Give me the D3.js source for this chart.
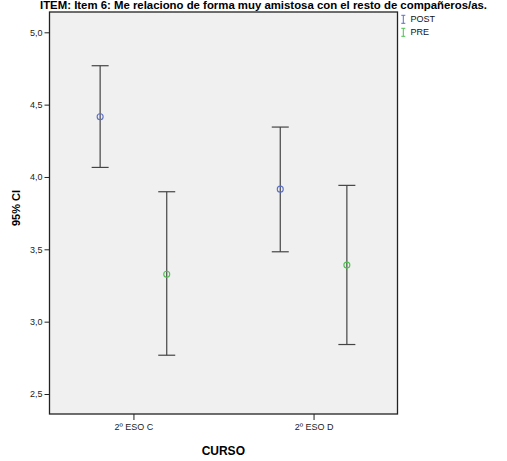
<!DOCTYPE html>
<html><head><meta charset="utf-8">
<script src="https://cdn.jsdelivr.net/npm/d3@7"></script>
<style>body{margin:0;background:#fff}svg{display:block}text{font-family:"Liberation Sans",Arial,sans-serif}</style>
</head><body>
<script>
const categories = ["2º ESO C", "2º ESO D"];
const series = ["POST", "PRE"];
const meanPOST = [4.416, 3.916];
const lowPOST  = [4.066, 3.483];
const highPOST = [4.769, 4.345];
const meanPRE  = [3.328, 3.391];
const lowPRE   = [2.768, 2.842];
const highPRE  = [3.898, 3.942];
const yTicks = [2.5, 3.0, 3.5, 4.0, 4.5, 5.0];
const colors = {POST: "#5a6fca", PRE: "#4cc24c"};
const title = "ITEM: Item 6: Me relaciono de forma muy amistosa con el resto de compañeros/as.";

const W = 507, H = 461;
const plot = {l: 49.5, r: 397.5, t: 12, b: 414};
const svg = d3.select("body").append("svg").attr("width", W).attr("height", H);

const y = d3.scaleLinear().domain([2.5, 5.0]).range([394, 32.3]);
const x0 = d3.scalePoint().domain(categories).range([plot.l, plot.r]).padding(0.466);
const x1 = d3.scalePoint().domain(series).range([-33.3, 33.3]);

svg.append("rect").attr("x", plot.l).attr("y", plot.t).attr("width", plot.r - plot.l).attr("height", plot.b - plot.t)
  .attr("fill", "#f0f0f0");

const rows = [];
categories.forEach((c, i) => {
  rows.push({c, s: "POST", m: meanPOST[i], lo: lowPOST[i], hi: highPOST[i]});
  rows.push({c, s: "PRE", m: meanPRE[i], lo: lowPRE[i], hi: highPRE[i]});
});

const g = svg.append("g");
rows.forEach(d => {
  const cx = x0(d.c) + x1(d.s);
  g.append("line").attr("x1", cx).attr("x2", cx).attr("y1", y(d.hi)).attr("y2", y(d.lo)).attr("stroke", "#444").attr("stroke-width", 1.2);
  [d.hi, d.lo].forEach(v => g.append("line").attr("x1", cx - 8.5).attr("x2", cx + 8.5).attr("y1", y(v)).attr("y2", y(v)).attr("stroke", "#444").attr("stroke-width", 1.2));
  g.append("circle").attr("cx", cx).attr("cy", y(d.m)).attr("r", 3).attr("fill", "none").attr("stroke", colors[d.s]).attr("stroke-width", 1.1);
});

svg.append("rect").attr("x", plot.l).attr("y", plot.t).attr("width", plot.r - plot.l).attr("height", plot.b - plot.t)
  .attr("fill", "none").attr("stroke", "#222").attr("stroke-width", 1.3);

// Y axis
const yAxis = svg.append("g").attr("transform", `translate(${plot.l},0)`)
  .call(d3.axisLeft(y).tickValues(yTicks).tickSize(5).tickPadding(2).tickFormat(d => d3.format(".1f")(d).replace(".", ",")));
yAxis.select(".domain").remove();
yAxis.selectAll("line").attr("stroke", "#222");
yAxis.selectAll("text").attr("font-size", 9).attr("fill", "#222");

// X axis
const xAxis = svg.append("g").attr("transform", `translate(0,${plot.b})`)
  .call(d3.axisBottom(x0).tickSize(6).tickPadding(4));
xAxis.select(".domain").remove();
xAxis.selectAll("line").attr("stroke", "#222");
xAxis.selectAll("text").attr("font-size", 9).attr("fill", "#222");

// Titles
svg.append("text").attr("x", 263.5).attr("y", 9).attr("text-anchor", "middle").attr("font-size", 11).attr("font-weight", "bold")
  .attr("textLength", 447).attr("lengthAdjust", "spacingAndGlyphs").text(title);
svg.append("text").attr("transform", "translate(20,208) rotate(-90)").attr("text-anchor", "middle").attr("font-size", 11).attr("font-weight", "bold").text("95% CI");
svg.append("text").attr("x", 223.3).attr("y", 455).attr("text-anchor", "middle").attr("font-size", 12).attr("font-weight", "bold").text("CURSO");

// Legend
const lg = svg.append("g");
series.forEach((s, i) => {
  const cy = 19.3 + i * 13;
  lg.append("line").attr("x1", 403.3).attr("x2", 403.3).attr("y1", cy - 4).attr("y2", cy + 4).attr("stroke", colors[s]);
  [cy - 4, cy + 4].forEach(v => lg.append("line").attr("x1", 401.3).attr("x2", 405.3).attr("y1", v).attr("y2", v).attr("stroke", colors[s]));
  lg.append("text").attr("x", 410.5).attr("y", cy).attr("dy", "0.35em").attr("font-size", 9).attr("fill", "#111").text(s);
});
</script>
</body></html>
